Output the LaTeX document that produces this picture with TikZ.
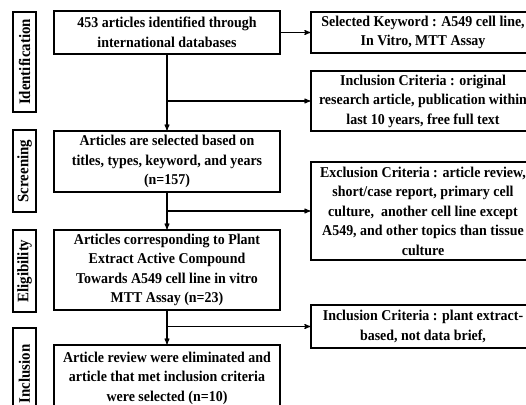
\documentclass[tikz,border=0pt]{standalone}
\usepackage{fontspec}
\setmainfont[FakeStretch=0.93]{Liberation Serif}
\usetikzlibrary{arrows}

\begin{document}
\begin{tikzpicture}[x=1pt, y=-1pt, ->, >=stealth', line width=1.1pt,
	font=\fontsize{15}{19.5}\selectfont\bfseries]

	\tikzstyle{stage}=[draw, line width=1.5pt, rotate=90, inner sep=0pt, minimum height=23pt,
		font=\fontsize{16}{18}\selectfont\bfseries]
	\tikzstyle{step box}=[draw, line width=1.5pt, align=center, inner sep=0pt, minimum width=226pt]
	\tikzstyle{side box}=[draw, line width=1.5pt, align=center, inner sep=0pt, minimum width=224pt]
	\useasboundingbox (0,0) rectangle (526,404);
	\clip (0,0) rectangle (526,404);

	% stages
	\node[stage, minimum width=100pt] (Sid) at (24.5,62) {Identification};
	\node[stage, minimum width=82pt] (Ssc) at (24.5,171) {Screening};
	\node[stage, minimum width=82pt] (Sel) at (24.5,271) {Eligibility};
	\node[stage, minimum width=92pt] (Sin) at (24.5,374) {Inclusion};

	% main column
	\node[step box, minimum height=43pt] (Ident) at (167,32.5)
		{453 articles identified through\\international databases};
	\node[step box, minimum height=61pt] (Screen) at (167,161.5)
		{Articles are selected based on\\titles, types, keyword, and years\\(n=157)};
	\node[step box, minimum height=80pt] (Elig) at (167,270)
		{Articles corresponding to Plant\\Extract Active Compound\\Towards A549 cell line in vitro\\MTT Assay (n=23)};
	\node[step box, minimum height=66pt] (Incl) at (167,378)
		{Article review were eliminated and\\article that met inclusion criteria\\were selected (n=10)};

	% side column
	\node[side box, minimum height=41pt] (Keyword) at (423,32.5)
		{Selected Keyword : A549 cell line,\\In Vitro, MTT Assay};
	\node[side box, minimum height=60pt] (CritA) at (423,101)
		{Inclusion Criteria : original\\research article, publication within\\last 10 years, free full text};
	\node[side box, minimum height=98pt] (CritB) at (423,211)
		{Exclusion Criteria : article review,\\short/case report, primary cell\\culture,\ \ another cell line except\\A549, and other topics than tissue\\culture};
	\node[side box, minimum height=43pt] (CritC) at (423,326.5)
		{Inclusion Criteria : plant extract-\\based, not data brief,};

	% down the main column
	\path (Ident) edge (Screen);
	\path (Screen) edge (Elig);
	\path (Elig) edge (Incl);

	% out to the side
	\path (Ident) edge (Keyword);
	\path (Ident.south |- CritA.west) edge (CritA.west);
	\path (Screen.south |- CritB.west) edge (CritB.west);
	\path (Elig.south |- CritC.west) edge (CritC.west);

\end{tikzpicture}
\end{document}
